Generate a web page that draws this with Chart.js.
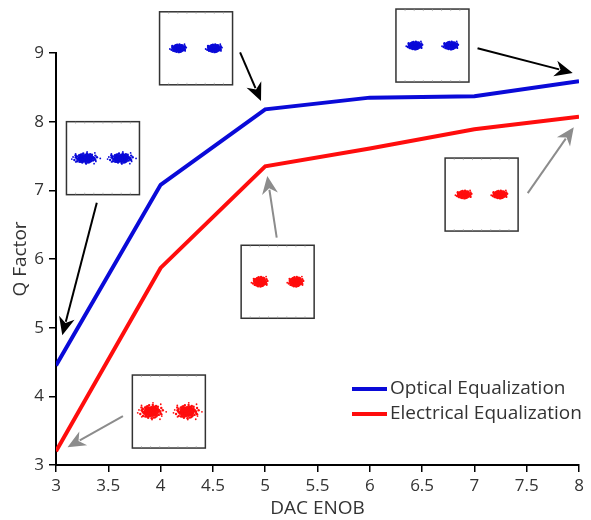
<!DOCTYPE html>
<html>
<head>
<meta charset="utf-8">
<script src="https://cdn.jsdelivr.net/npm/chart.js@4.4.0/dist/chart.umd.min.js"></script>
<style>
  html, body { margin: 0; padding: 0; background: #fff; }
  #wrap { width: 591px; height: 520px; position: relative; }
</style>
</head>
<body>
<div id="wrap"><canvas id="chart"></canvas></div>
<script>
// Q factor vs DAC effective number of bits
const enob = [3, 4, 5, 6, 7, 8];
const opticalQ = [4.45, 7.08, 8.18, 8.35, 8.37, 8.59];
const electricalQ = [3.2, 5.87, 7.35, 7.61, 7.89, 8.07];
const seriesNames = ["Optical Equalization", "Electrical Equalization"];
const seriesColors = ["#0a0ad8", "#ff0d0d"];

// constellation insets (top-left corner in data units) and which series they show
const insetX = [3.1, 3.99, 6.25, 6.72, 4.77, 3.73];
const insetY = [8.0, 9.6, 9.64, 7.47, 6.2, 4.31];
const insetSeries = [0, 0, 0, 1, 1, 1];
const insetSpread = [[11, 5], [7, 4], [7, 4], [7, 4], [7, 5], [11, 7]];

// arrows from each inset to the point it belongs to
const arrowFromX = [3.39, 4.76, 7.03, 7.51, 5.11, 3.64];
const arrowFromY = [6.82, 9.01, 9.07, 6.96, 6.31, 3.71];
const arrowToX = [3.06, 4.96, 7.94, 7.95, 5.02, 3.11];
const arrowToY = [4.89, 8.30, 8.71, 7.92, 7.21, 3.26];
const arrowColors = ["#000", "#000", "#000", "#8c8c8c", "#8c8c8c", "#8c8c8c"];

const FONT = "'Open Sans', sans-serif";
const INK = "#333";
const INSET_SIZE = 73;

function drawCluster(ctx, cx, cy, rx, ry, color, loose) {
  ctx.fillStyle = color;
  ctx.beginPath();
  ctx.ellipse(cx, cy, rx * 0.72, ry * 0.72, 0, 0, Math.PI * 2);
  ctx.fill();
  const n = 70;
  for (let i = 0; i < n; i++) {
    const a = i * 2.39996;
    const r = Math.sqrt((i + 0.5) / n) * (1 + 0.12 * Math.sin(i * 1.7));
    ctx.beginPath();
    ctx.arc(cx + Math.cos(a) * r * rx, cy + Math.sin(a) * r * ry, 1.2, 0, Math.PI * 2);
    ctx.fill();
  }
  // a few stray symbols outside the core
  const stray = loose ? 10 : 3;
  for (let i = 0; i < stray; i++) {
    const a = i * 2.39996 + 0.6;
    const r = 1.15 + 0.2 * ((i * 7) % 3) / 2;
    ctx.beginPath();
    ctx.arc(cx + Math.cos(a) * r * rx, cy + Math.sin(a) * r * ry, 0.9, 0, Math.PI * 2);
    ctx.fill();
  }
}

function drawArrow(ctx, x0, y0, x1, y1, color) {
  const ang = Math.atan2(y1 - y0, x1 - x0);
  const len = 18, half = 8;
  const bx = x1 - Math.cos(ang) * len, by = y1 - Math.sin(ang) * len;
  ctx.strokeStyle = color;
  ctx.fillStyle = color;
  ctx.lineWidth = 2;
  ctx.beginPath();
  ctx.moveTo(x0, y0);
  ctx.lineTo(bx + Math.cos(ang) * 4, by + Math.sin(ang) * 4);
  ctx.stroke();
  const nx = -Math.sin(ang), ny = Math.cos(ang);
  ctx.beginPath();
  ctx.moveTo(x1, y1);
  ctx.lineTo(bx + nx * half, by + ny * half);
  ctx.lineTo(x1 - Math.cos(ang) * len * 0.7, y1 - Math.sin(ang) * len * 0.7);
  ctx.lineTo(bx - nx * half, by - ny * half);
  ctx.closePath();
  ctx.fill();
}

const annotations = {
  id: "annotations",
  afterDatasetsDraw(chart) {
    const { ctx, chartArea } = chart;
    const xs = chart.scales.x, ys = chart.scales.y;
    ctx.save();

    insetX.forEach((vx, i) => {
      const left = xs.getPixelForValue(vx);
      const top = ys.getPixelForValue(insetY[i]);
      const s = INSET_SIZE;
      ctx.fillStyle = "#fff";
      ctx.fillRect(left, top, s, s);
      ctx.strokeStyle = "#333";
      ctx.lineWidth = 1.5;
      ctx.strokeRect(left, top, s, s);
      ctx.lineWidth = 0.6;
      ctx.strokeStyle = "#999";
      for (let k = 1; k < 8; k++) {
        const t = left + (s * k) / 8;
        ctx.beginPath();
        ctx.moveTo(t, top); ctx.lineTo(t, top + 2);
        ctx.moveTo(t, top + s); ctx.lineTo(t, top + s - 2);
        ctx.stroke();
      }
      const [rx, ry] = insetSpread[i];
      const color = seriesColors[insetSeries[i]];
      const loose = rx > 8;
      drawCluster(ctx, left + s * 0.26, top + s * 0.5, rx, ry, color, loose);
      drawCluster(ctx, left + s * 0.75, top + s * 0.5, rx, ry, color, loose);
    });

    arrowFromX.forEach((vx, i) => {
      drawArrow(
        ctx,
        xs.getPixelForValue(vx), ys.getPixelForValue(arrowFromY[i]),
        xs.getPixelForValue(arrowToX[i]), ys.getPixelForValue(arrowToY[i]),
        arrowColors[i]
      );
    });

    // legend
    const lx = chartArea.right - 227;
    let ly = chartArea.bottom - 76;
    ctx.font = "19px " + FONT;
    ctx.textBaseline = "middle";
    seriesNames.forEach((name, i) => {
      ctx.strokeStyle = seriesColors[i];
      ctx.lineWidth = 4;
      ctx.beginPath();
      ctx.moveTo(lx, ly); ctx.lineTo(lx + 35, ly);
      ctx.stroke();
      ctx.fillStyle = INK;
      ctx.fillText(name, lx + 38, ly);
      ly += 25;
    });
    ctx.restore();
  },
};

const toPoints = (ys) => enob.map((x, i) => ({ x, y: ys[i] }));

new Chart(document.getElementById("chart"), {
  type: "line",
  data: {
    datasets: [
      { label: seriesNames[0], data: toPoints(opticalQ), borderColor: seriesColors[0] },
      { label: seriesNames[1], data: toPoints(electricalQ), borderColor: seriesColors[1] },
    ].map((d) => ({ ...d, borderWidth: 4, pointRadius: 0, tension: 0, fill: false })),
  },
  options: {
    responsive: true,
    maintainAspectRatio: false,
    animation: false,
    layout: { padding: { top: 53, right: 12, left: 0, bottom: 0 } },
    plugins: { legend: { display: false }, tooltip: { enabled: false } },
    scales: {
      x: {
        type: "linear",
        min: 3,
        max: 8,
        afterFit: (s) => { s.height = 55; },
        ticks: { stepSize: 0.5, color: INK, padding: 4, font: { family: FONT, size: 17 }, callback: (v) => String(v) },
        grid: { drawOnChartArea: false, color: "#000", tickLength: 7, lineWidth: 1.5 },
        border: { color: "#000", width: 2 },
        title: { display: true, text: "DAC ENOB", color: INK, padding: { top: 0, bottom: 0 }, font: { family: FONT, size: 19 } },
      },
      y: {
        min: 3,
        max: 9,
        afterFit: (s) => { s.width = 56; },
        ticks: { stepSize: 1, color: INK, padding: 5, font: { family: FONT, size: 17 } },
        grid: { drawOnChartArea: false, color: "#000", tickLength: 7, lineWidth: 1.5 },
        border: { color: "#000", width: 2 },
        title: { display: true, text: "Q Factor", color: INK, padding: { top: 9, bottom: 0 }, font: { family: FONT, size: 19 } },
      },
    },
  },
  plugins: [annotations],
});
</script>
</body>
</html>
